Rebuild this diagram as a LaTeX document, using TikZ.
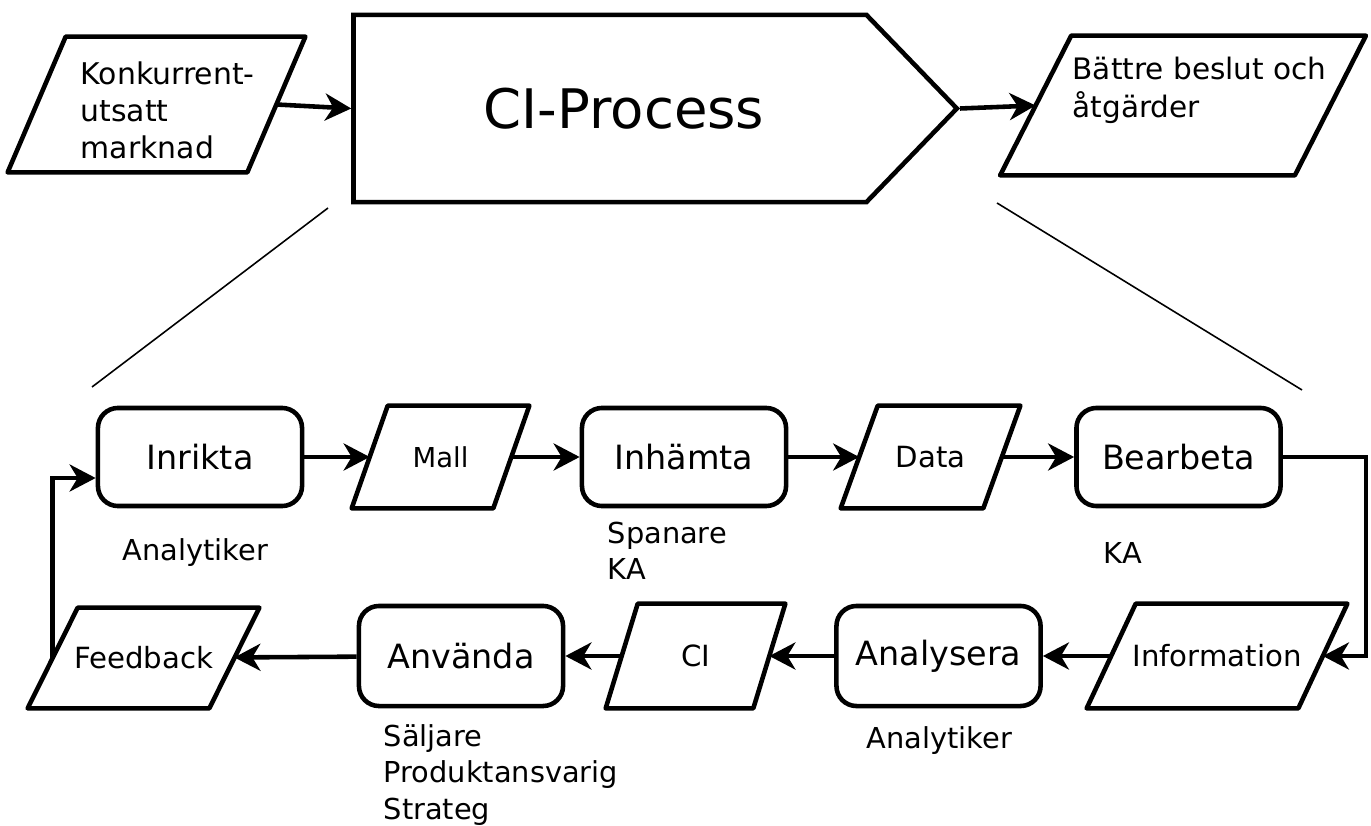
\documentclass[tikz,border=0pt]{standalone}
\usepackage{fontspec}
\setmainfont{DejaVu Sans}
\usetikzlibrary{shapes.symbols,arrows.meta,positioning}

\tikzset{
	box/.style = {draw, line width=1.3pt, rounded corners=0.2cm, minimum width=2.04cm, minimum height=0.98cm, inner sep=0pt, font=\fontsize{9.5}{11}\selectfont},
	pbox/.style = {inner sep=0pt, outer sep=0.65pt, font=\fontsize{8.3}{10.4}\selectfont},
	flow/.style = {line width=1.3pt, -{Stealth[length=0.26cm, width=0.27cm, inset=0.08cm]}},
	who/.style = {align=left, inner sep=0pt, font=\fontsize{8.2}{10.3}\selectfont}
}
% slanted outline round a node, #2 = half of the slant
\newcommand{\parabox}[2]{\draw [line width=1.3pt, line join=round] ([xshift=-#2]#1.south west) -- ([xshift=#2]#1.north west) -- ([xshift=#2]#1.north east) -- ([xshift=-#2]#1.south east) -- cycle;}

\begin{document}
\begin{tikzpicture}[x=0.01cm, y=-0.01cm]
	\useasboundingbox (0,0) rectangle (1371,825);

	% top line
	\node [pbox, minimum width=2.35cm, minimum height=1.31cm] (konk) at (156.5,104.5) {};
	\parabox{konk}{0.29cm}
	\node [who, anchor=north west, font=\fontsize{8.5}{10.6}\selectfont] (konktext) at (80,61) {Konkurrent-\\utsatt\\marknad};
	\node [draw, line width=1.3pt, signal, signal to=east, signal pointer angle=92, minimum width=6.03cm, minimum height=1.87cm, inner sep=0pt, font=\fontsize{15.5}{18}\selectfont] (ci) at (610,108.5) {\hspace*{0.28cm}CI-Process};
	\node [pbox, minimum width=2.9cm, minimum height=1.35cm] (better) at (1183,105.5) {};
	\parabox{better}{0.355cm}
	\node [who, anchor=north west, font=\fontsize{8.4}{10.8}\selectfont] (bettertext) at (1072,56) {Bättre beslut och\\åtgärder};
	\draw [flow] (konk.east) -- (ci.west);
	\draw [flow] (ci.east) -- (better.west);

	% zoom lines
	\coordinate (zl1) at (328,208);
	\coordinate (zl2) at (92,387);
	\coordinate (zr1) at (997,203);
	\coordinate (zr2) at (1302,390);
	\draw [line width=0.45pt] (zl1) -- (zl2);
	\draw [line width=0.45pt] (zr1) -- (zr2);

	% process, first row
	\node [box] (inr) at (200,457) {Inrikta};
	\node [pbox, minimum width=1.37cm, minimum height=0.98cm, font=\fontsize{7.8}{9}\selectfont] (mall) at (440.5,457) {Mall};
	\parabox{mall}{0.18cm}
	\node [box] (inh) at (684,457) {Inhämta};
	\node [pbox, minimum width=1.38cm, minimum height=0.98cm] (data) at (930.5,457) {Data};
	\parabox{data}{0.185cm}
	\node [box] (bear) at (1178.5,457) {Bearbeta};

	% second row
	\node [pbox, minimum width=2.07cm, minimum height=1.0cm] (info) at (1217,656) {Information};
	\parabox{info}{0.245cm}
	\node [box, minimum height=1.0cm] (anal) at (938.5,656) {Analysera};
	\node [pbox, minimum width=1.43cm, minimum height=1.0cm] (cip) at (695.5,656) {CI};
	\parabox{cip}{0.16cm}
	\node [box, minimum height=1.0cm] (anv) at (461,656) {Använda};
	\node [pbox, minimum width=1.77cm, minimum height=0.96cm] (fb) at (143.5,658) {Feedback};
	\parabox{fb}{0.25cm}

	% roles
	\node [who, anchor=west] (r1) at (122,553) {Analytiker};
	\node [who, anchor=west] (r2) at (607,551) {Spanare\\KA};
	\node [who, anchor=west] (r3) at (1103,553) {KA};
	\node [who, anchor=west] (r4) at (866,741) {Analytiker};
	\node [who, anchor=west] (r5) at (383,775) {Säljare\\Produktansvarig\\Strateg};

	\draw [flow] (inr) -- (mall);
	\draw [flow] (mall) -- (inh);
	\draw [flow] (inh) -- (data);
	\draw [flow] (data) -- (bear);
	\draw [flow] (bear.east) -- ++(83,0) |- (info.east);
	\draw [flow] (info) -- (anal);
	\draw [flow] (anal) -- (cip);
	\draw [flow] (cip) -- (anv);
	\draw [flow] (anv) -- (fb);
	\draw [flow] (fb.west) |- ([yshift=-0.21cm]inr.west);
\end{tikzpicture}
\end{document}
